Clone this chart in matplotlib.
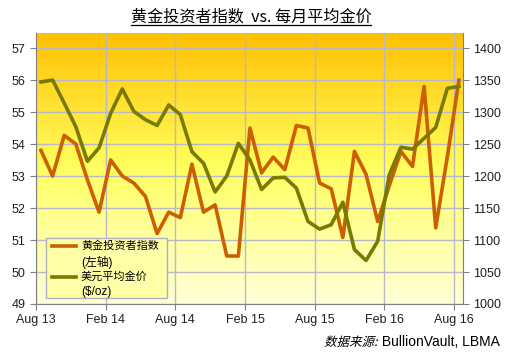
import numpy as np
import matplotlib
matplotlib.use("Agg")
import matplotlib.pyplot as plt
from matplotlib.colors import LinearSegmentedColormap
from matplotlib.textpath import TextPath
from matplotlib.font_manager import FontProperties
from matplotlib.patches import PathPatch, Rectangle
import matplotlib.transforms as mtransforms

plt.rcParams['font.family'] = ['Liberation Sans', 'Noto Sans CJK SC', 'DejaVu Sans']

tick_labels = ["Aug 13", "Feb 14", "Aug 14", "Feb 15", "Aug 15", "Feb 16", "Aug 16"]
investor_index = [53.8, 53.0, 54.27, 54.0, 52.88, 51.87, 53.5, 53.0, 52.78, 52.36,
                  51.2, 51.87, 51.7, 53.37, 51.87, 52.1, 50.5, 50.5, 54.5, 53.1,
                  53.59, 53.2, 54.58, 54.5, 52.78, 52.6, 51.08, 53.77, 53.05, 51.58,
                  52.7, 53.77, 53.3, 55.8, 51.38, 53.6, 56.0]
gold_price = [1347, 1350, 1314, 1277, 1223, 1244, 1298, 1336, 1301, 1288,
              1279, 1311, 1296, 1238, 1220, 1175, 1200, 1251, 1225, 1179,
              1197, 1198, 1181, 1129, 1117, 1124, 1159, 1085, 1068, 1098,
              1202, 1245, 1242, 1259, 1276, 1337, 1340]
title = "黄金投资者指数  vs. 每月平均金价"
legend_labels = [("黄金投资者指数", "(左轴)"), ("美元平均金价", "($/oz)")]
source_cn = "数据来源:"
source_en = " BullionVault, LBMA"

W, H, DPI = 507, 352, 100
fig = plt.figure(figsize=(W/DPI, H/DPI), dpi=DPI)
ax = fig.add_axes([36/W, 1-304/H, (463-36)/W, (304-33)/H])
ax2 = ax.twinx()

x = np.arange(len(investor_index))
xlo, xhi = -0.43, 36.35
ax.set_xlim(xlo, xhi)
ax.set_ylim(49, 57.47)
ax2.set_ylim(1000, 1423.5)

cmap = LinearSegmentedColormap.from_list("bg", [(0.0, "#FFFFD8"), (0.25, "#FFFFA0"),
                                                 (0.5, "#FFFF60"), (0.75, "#FFE030"), (1.0, "#FFC000")])
grad = np.linspace(0, 1, 256).reshape(-1, 1)
ax.imshow(grad, extent=[xlo, xhi, 49, 57.47], origin="lower", aspect="auto", cmap=cmap, zorder=0)

ax.set_xticks(np.arange(0, 37, 6) - 0.43)
ax.set_xticklabels(tick_labels)
ax.set_yticks(np.arange(49, 58, 1))
ax2.set_yticks(np.arange(1000, 1401, 50))

ax.grid(True, color="#B8B8C8", linewidth=1.0, zorder=1)

orange = "#CC6000"
olive = "#7A7A00"
l1, = ax.plot(x, investor_index, color=orange, linewidth=2.6, zorder=3)
l2, = ax2.plot(x, gold_price, color=olive, linewidth=2.6, zorder=3)

for a in (ax, ax2):
    for s in a.spines.values():
        s.set_visible(False)
for a, side in ((ax, 'left'), (ax, 'bottom'), (ax2, 'right')):
    a.spines[side].set_visible(True)
    a.spines[side].set_color("#808080")

ax.tick_params(axis='both', labelsize=9, color="#808080", length=4, labelcolor="#202020")
ax2.tick_params(axis='y', labelsize=9, color="#808080", length=4, labelcolor="#202020")

# legend box drawn in figure pixel coordinates
def fy(y):
    return (H - y) / H
def fx(xp):
    return xp / W
fig.add_artist(Rectangle((fx(45.5), fy(298)), fx(167) - fx(45.5), fy(238) - fy(298),
                         facecolor="#FFFFA8", edgecolor="#B0B0C0", linewidth=1.0,
                         transform=fig.transFigure, zorder=10))
rows = [(246, 262), (277, 292)]
for (l1txt, l2txt), (ya, yb), col in zip(legend_labels, rows, [orange, olive]):
    fig.add_artist(plt.Line2D([fx(51.5), fx(76)], [fy(ya)]*2, color=col, linewidth=2.6,
                              transform=fig.transFigure, zorder=11))
    fig.text(fx(81), fy(ya), l1txt, ha="left", va="center", fontsize=8, zorder=11,
             family=['Noto Sans CJK SC', 'DejaVu Sans'])
    fig.text(fx(81), fy(yb), l2txt, ha="left", va="center", fontsize=8.5, zorder=11,
             family=['Liberation Sans', 'Noto Sans CJK SC'])

t = fig.text(251/W, fy(17), title, ha="center", va="center", fontsize=11.6,
             family=['Noto Sans CJK SC', 'DejaVu Sans'])
fig.canvas.draw()
bb = t.get_window_extent()
fig.add_artist(plt.Line2D([bb.x0/W, bb.x1/W], [(bb.y0+1)/H]*2, color="black", linewidth=0.9))

# source line: italic (slanted) Chinese part + plain English
te = fig.text(500/W, 6/H, source_en, ha="right", va="baseline", fontsize=10)
fig.canvas.draw()
ebb = te.get_window_extent()
fp = FontProperties(family='Noto Sans CJK SC', size=9)
tp = TextPath((0, 0), source_cn, prop=fp)
ext = tp.get_extents()
scale = DPI / 72.0
wpx = ext.width * scale
x0 = ebb.x0 - wpx - 2
tr = mtransforms.Affine2D().scale(scale).skew_deg(14, 0).translate(x0, 6)
patch = PathPatch(tp, transform=tr, facecolor="black", edgecolor="none")
fig.add_artist(patch)

fig.savefig("out.png", dpi=DPI)
